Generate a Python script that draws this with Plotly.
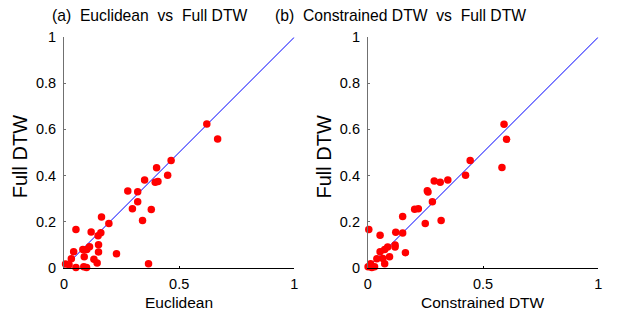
import plotly.graph_objects as go

# Panel (a): Euclidean vs Full DTW
eu_x = [0.620, 0.667, 0.465, 0.402, 0.450, 0.396, 0.408, 0.350, 0.277, 0.320,
        0.320, 0.297, 0.379, 0.341, 0.163, 0.195, 0.052, 0.118, 0.160, 0.148,
        0.150, 0.111, 0.099, 0.082, 0.042, 0.150, 0.228, 0.088, 0.032, 0.130,
        0.144, 0.007, 0.022, 0.052, 0.086, 0.098, 0.367]
eu_y = [0.623, 0.558, 0.465, 0.433, 0.401, 0.371, 0.374, 0.380, 0.332, 0.329,
        0.286, 0.256, 0.252, 0.204, 0.220, 0.191, 0.165, 0.155, 0.151, 0.138,
        0.099, 0.091, 0.079, 0.079, 0.069, 0.068, 0.060, 0.047, 0.039, 0.036,
        0.020, 0.016, 0.013, 0.001, 0.004, 0.001, 0.017]

# Panel (b): Constrained DTW vs Full DTW
cd_x = [0.591, 0.602, 0.582, 0.444, 0.424, 0.347, 0.288, 0.314, 0.258, 0.261,
        0.280, 0.203, 0.219, 0.318, 0.249, 0.151, 0.004, 0.121, 0.151, 0.053,
        0.118, 0.118, 0.163, 0.086, 0.073, 0.053, 0.094, 0.065, 0.039, 0.073,
        0.029, 0.012, 0.001, 0.017]
cd_y = [0.622, 0.557, 0.435, 0.465, 0.401, 0.380, 0.376, 0.371, 0.334, 0.328,
        0.286, 0.253, 0.256, 0.204, 0.191, 0.222, 0.165, 0.154, 0.150, 0.140,
        0.098, 0.089, 0.065, 0.089, 0.079, 0.069, 0.047, 0.040, 0.039, 0.017,
        0.004, 0.017, 0.004, 0.001]

diag = [0, 1]
titles = ["(a)  Euclidean  vs  Full DTW", "(b)  Constrained DTW  vs  Full DTW"]
xlabels = ["Euclidean", "Constrained DTW"]
ylabel = "Full DTW"
xticks = [0, 0.5, 1]
xticktext = ["0", "0.5", "1"]
yticks = [0, 0.2, 0.4, 0.6, 0.8, 1]
yticktext = ["0", "0.2", "0.4", "0.6", "0.8", "1"]

W, H = 636, 314
FONT = "Liberation Sans, Arial, sans-serif"


def px(x):  # page x for a wanted on-screen x
    return 318 + (x - 318) / 0.99


def py(y):  # page y for a wanted on-screen y
    return 157 + (y - 157) / 0.948


fig = go.Figure()
for i, (xs, ys) in enumerate([(eu_x, eu_y), (cd_x, cd_y)]):
    xa = "x" if i == 0 else "x2"
    ya = "y" if i == 0 else "y2"
    fig.add_trace(go.Scatter(x=diag, y=diag, mode="lines",
                             line=dict(color="#0000FF", width=1),
                             xaxis=xa, yaxis=ya, showlegend=False, hoverinfo="skip"))
    fig.add_trace(go.Scatter(x=xs, y=ys, mode="markers",
                             marker=dict(color="#FF0000", size=7.5, line=dict(width=0)),
                             cliponaxis=False, xaxis=xa, yaxis=ya, showlegend=False))

lefts = [px(63.3), px(368)]
rights = [px(294.3), px(599)]
top_px, bot_px = py(37.3), py(267.5)
ydom = [(H - bot_px) / H, (H - top_px) / H]

base = dict(range=[0, 1], showgrid=False, zeroline=False, showline=True,
            linewidth=1, ticks="inside", ticklen=2, mirror=False, fixedrange=True)

for i in range(2):
    sfx = "" if i == 0 else "2"
    fig.update_layout(**{
        f"xaxis{sfx}": dict(domain=[lefts[i] / W, rights[i] / W], anchor=f"y{sfx}",
                            tickvals=xticks, ticktext=xticktext,
                            linecolor="black", tickcolor="black", ticklabelstandoff=3,
                            tickfont=dict(family=FONT, size=14.5, color="black"), **base),
        f"yaxis{sfx}": dict(domain=ydom, anchor=f"x{sfx}",
                            tickvals=yticks, ticktext=yticktext,
                            linecolor="#707070", tickcolor="#707070", ticklabelstandoff=4,
                            tickfont=dict(family=FONT, size=14.5, color="black"), **base),
    })

title_left = [px(49), px(273)]
ylab_x = [px(19), px(324)]
ann = []
for i in range(2):
    ann.append(dict(text=titles[i], x=title_left[i] / W, y=1 - py(15.5) / H,
                    xref="paper", yref="paper", xanchor="left", yanchor="middle",
                    showarrow=False, font=dict(family=FONT, size=15.7, color="black")))
    ann.append(dict(text=xlabels[i], x=(lefts[i] + rights[i]) / 2 / W, y=1 - 310 / H,
                    xref="paper", yref="paper", xanchor="center", yanchor="middle",
                    showarrow=False, font=dict(family=FONT, size=15.5, color="black")))
    ann.append(dict(text=ylabel, x=ylab_x[i] / W, y=1 - 156.5 / H,
                    xref="paper", yref="paper", xanchor="center", yanchor="middle",
                    textangle=-90, showarrow=False,
                    font=dict(family=FONT, size=20, color="black")))

fig.update_layout(width=W, height=H, margin=dict(l=0, r=0, t=0, b=0),
                  paper_bgcolor="white", plot_bgcolor="white", annotations=ann)

fig.write_html("out.html", config={"displayModeBar": False},
               post_script="document.body.style.margin='0';document.body.style.overflow='hidden';")
